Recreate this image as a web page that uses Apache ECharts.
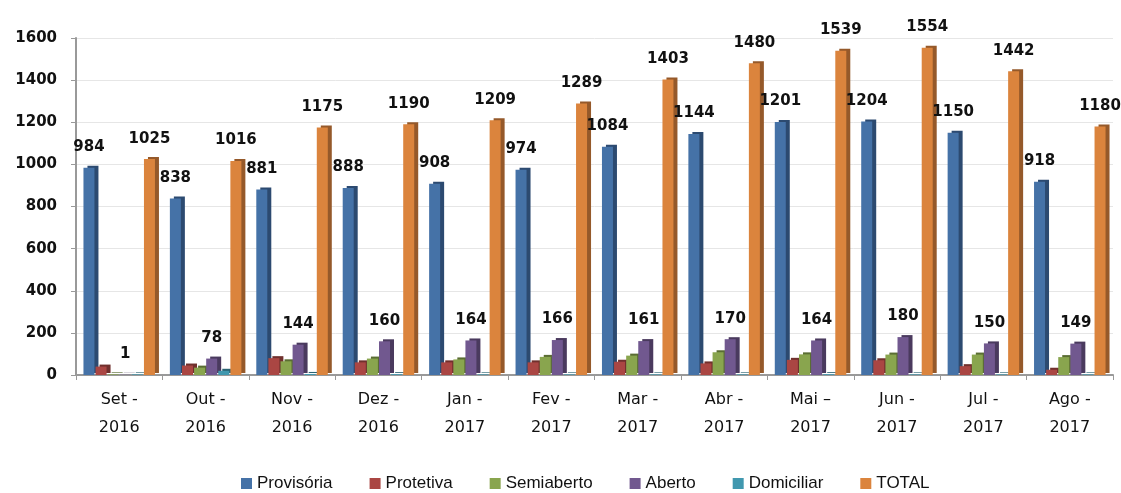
<!DOCTYPE html>
<html>
<head>
<meta charset="utf-8">
<script src="https://cdn.jsdelivr.net/npm/echarts@6/dist/echarts.min.js"></script>
<style>
html,body{margin:0;padding:0;background:#fff;}
#c{width:1121px;height:493px;}
</style>
</head>
<body>
<div id="c"></div>
<script>
const categories = ['Set -\n2016','Out -\n2016','Nov -\n2016','Dez -\n2016','Jan -\n2017','Fev -\n2017','Mar -\n2017','Abr -\n2017','Mai –\n2017','Jun -\n2017','Jul -\n2017','Ago -\n2017'];
const provisoria = [984, 838, 881, 888, 908, 974, 1084, 1144, 1201, 1204, 1150, 918];
const protetiva  = [40, 45, 80, 60, 60, 60, 63, 55, 72, 70, 42, 25];
const semiaberto = [3, 35, 65, 78, 74, 86, 92, 108, 98, 97, 97, 85];
const aberto     = [1, 78, 144, 160, 164, 166, 161, 170, 164, 180, 150, 149];
const domiciliar = [3, 20, 5, 4, 3, 3, 3, 3, 4, 3, 3, 3];
const total      = [1025, 1016, 1175, 1190, 1209, 1289, 1403, 1480, 1539, 1554, 1442, 1180];
const yTicks = [0, 200, 400, 600, 800, 1000, 1200, 1400, 1600];

const colors = ['#4572A7','#AA4643','#89A54E','#71588F','#4198AF','#DB843D'];
const sideColors = ['#2C4A70','#70302D','#5A6D33','#4A3A5E','#2B6473','#95592A'];
const chart = echarts.init(document.getElementById('c'), null, {renderer:'canvas'});
const lbl = {show:true, position:'top', distance:13, color:'#111', fontWeight:'bold', fontSize:15, fontFamily:'DejaVu Sans'};
function ser(name, data, showLabel, i){
  return {
    name, type:'bar', data, barWidth:11, barGap:'10%',
    itemStyle:{color:colors[i], shadowColor:sideColors[i], shadowBlur:0, shadowOffsetX:4, shadowOffsetY:-2},
    label: showLabel ? lbl : {show:false}
  };
}
chart.setOption({
  animation:false,
  color:colors,
  grid:{left:76, right:8, top:38, bottom:118},
  legend:{
    bottom:-4, left:236, itemWidth:11, itemHeight:11, itemGap:37,
    icon:'rect',
    textStyle:{fontSize:17, color:'#111', fontFamily:'Liberation Sans'},
    data:['Provisória','Protetiva','Semiaberto','Aberto','Domiciliar','TOTAL']
  },
  xAxis:{
    type:'category', data:categories,
    axisLine:{lineStyle:{color:'#999', width:2}},
    axisTick:{show:true, lineStyle:{color:'#999'}, length:5},
    axisLabel:{fontSize:16, color:'#111', lineHeight:28, margin:11, fontFamily:'DejaVu Sans'}
  },
  yAxis:{
    type:'value', min:yTicks[0], max:yTicks[yTicks.length-1], interval:200,
    axisLine:{show:true, lineStyle:{color:'#999', width:2}},
    axisTick:{show:true, lineStyle:{color:'#999'}, length:5},
    splitLine:{lineStyle:{color:'#e6e6e6'}},
    axisLabel:{fontSize:15, color:'#111', fontWeight:'bold', margin:19, fontFamily:'DejaVu Sans', formatter: v => String(v)}
  },
  series:[
    ser('Provisória', provisoria, true, 0),
    ser('Protetiva', protetiva, false, 1),
    ser('Semiaberto', semiaberto, false, 2),
    ser('Aberto', aberto, true, 3),
    ser('Domiciliar', domiciliar, false, 4),
    ser('TOTAL', total, true, 5)
  ]
});
</script>
</body>
</html>
